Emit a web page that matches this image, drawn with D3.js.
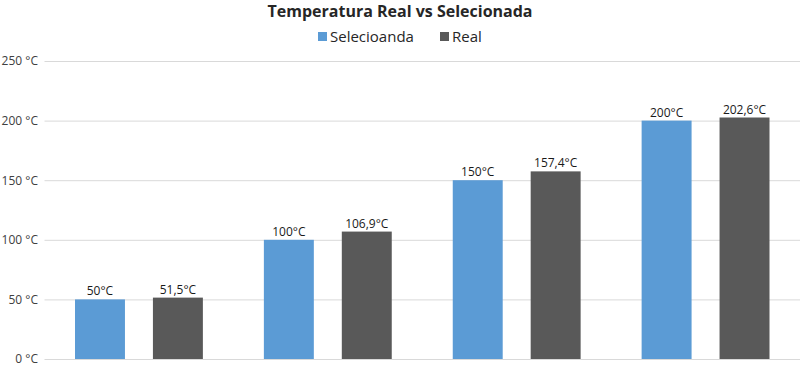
<!DOCTYPE html>
<html>
<head>
<meta charset="utf-8">
<script src="https://cdnjs.cloudflare.com/ajax/libs/d3/7.8.5/d3.min.js"></script>
<style>
body { margin: 0; background: #fff; }
text { font-family: "Open Sans", "DejaVu Sans", sans-serif; }
</style>
</head>
<body>
<svg id="chart" width="800" height="365"></svg>
<script>
var categories = ["50", "100", "150", "200"];
var series = ["Selecioanda", "Real"];
var selecionada = [50, 100, 150, 200];
var real = [51.5, 106.9, 157.4, 202.6];
var yTicks = [0, 50, 100, 150, 200, 250];
var colors = ["#5b9bd5", "#595959"];

var margin = {top: 61, right: 0, bottom: 6, left: 44.5},
	width = 800 - margin.left - margin.right,
	height = 365 - margin.top - margin.bottom;

var svg = d3.select("#chart");
var g = svg.append("g")
	.attr("transform", "translate(" + margin.left + "," + margin.top + ")");

var x0 = d3.scaleBand().domain(categories).range([0, width]).paddingInner(0).paddingOuter(0);
var x1 = d3.scaleBand().domain(series).range([30.5, x0.bandwidth() - 30.5]).paddingInner(28 / 78).paddingOuter(0);
var y = d3.scaleLinear().domain([0, 250]).range([height, 0]);
var color = d3.scaleOrdinal().domain(series).range(colors);

function fmt(v) { return String(v).replace(".", ",") + "°C"; }

// grid
var yAxis = d3.axisLeft(y).tickValues(yTicks).tickSize(-width).tickPadding(7)
	.tickFormat(function(d) { return d + " °C"; });
var ya = g.append("g").call(yAxis);
ya.select(".domain").remove();
ya.selectAll("line").attr("stroke", "#d9d9d9").attr("stroke-width", 1);
ya.selectAll("text").attr("fill", "#404040").style("font-size", "12px").attr("x", -6.5);

var data = categories.map(function(c, i) {
	return {cat: c, vals: [{s: series[0], v: selecionada[i]}, {s: series[1], v: real[i]}]};
});

var groups = g.selectAll(".grp").data(data).enter().append("g")
	.attr("transform", function(d) { return "translate(" + x0(d.cat) + ",0)"; });

groups.selectAll("rect").data(function(d) { return d.vals; }).enter().append("rect")
	.attr("x", function(d) { return x1(d.s); })
	.attr("width", x1.bandwidth())
	.attr("y", function(d) { return y(d.v); })
	.attr("height", function(d) { return height - y(d.v); })
	.attr("fill", function(d) { return color(d.s); });

groups.selectAll(".lbl").data(function(d) { return d.vals; }).enter().append("text")
	.attr("class", "lbl")
	.attr("x", function(d) { return x1(d.s) + x1.bandwidth() / 2; })
	.attr("y", function(d) { return y(d.v) - 4; })
	.attr("text-anchor", "middle")
	.attr("fill", "#1a1a1a")
	.style("font-size", "12px")
	.text(function(d) { return fmt(d.v); });

// title
svg.append("text")
	.attr("x", 400).attr("y", 17)
	.attr("text-anchor", "middle")
	.attr("fill", "#262626")
	.style("font-size", "16px").style("font-weight", "bold")
	.text("Temperatura Real vs Selecionada");

// legend
var legendX = [318, 440];
var legend = svg.selectAll(".legend").data(series).enter().append("g")
	.attr("transform", function(d, i) { return "translate(" + legendX[i] + ",32)"; });
legend.append("rect").attr("width", 9).attr("height", 9).attr("fill", function(d) { return color(d); });
legend.append("text").attr("x", 12).attr("y", 10)
	.attr("fill", "#262626").style("font-size", "15px")
	.text(function(d) { return d; });
</script>
</body>
</html>
